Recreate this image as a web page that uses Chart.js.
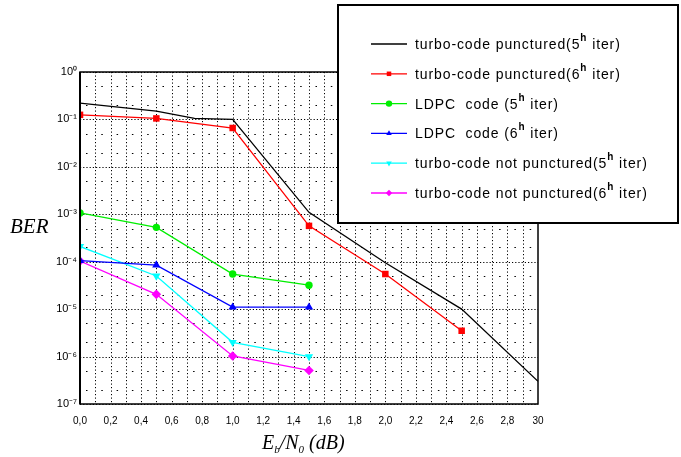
<!DOCTYPE html>
<html>
<head>
<meta charset="utf-8">
<script src="https://cdn.jsdelivr.net/npm/chart.js@4/dist/chart.umd.min.js"></script>
<style>
html,body{margin:0;padding:0;background:#fff;overflow:hidden;}
canvas{display:block;}
</style>
</head>
<body>
<canvas id="c" width="681" height="457"></canvas>
<script>
// ---- data ----
const xTickValues = [0,0.2,0.4,0.6,0.8,1.0,1.2,1.4,1.6,1.8,2.0,2.2,2.4,2.6,2.8,3.0];
const xTickLabels = ['0,0','0,2','0,4','0,6','0,8','1,0','1,2','1,4','1,6','1,8','2,0','2,2','2,4','2,6','2,8','30'];
const yTickValues = [1e-7,1e-6,1e-5,1e-4,1e-3,1e-2,1e-1,1];
const yTickLabels = ['10\u207B\u2077','10\u207B\u2076','10\u207B\u2075','10\u207B\u2074','10\u207B\u00B3','10\u207B\u00B2','10\u207B\u00B9','10\u2070'];

const seriesLabels = [
  'turbo-code punctured(5\u02B0 iter)',
  'turbo-code punctured(6\u02B0 iter)',
  'LDPC  code (5\u02B0 iter)',
  'LDPC  code (6\u02B0 iter)',
  'turbo-code not punctured(5\u02B0 iter)',
  'turbo-code not punctured(6\u02B0 iter)'
];

const turboPunct5X = [0, 0.5, 0.75, 1.0, 1.5, 2.0, 2.5, 3.0];
const turboPunct5Y = [0.22, 0.15, 0.105, 0.1, 1.1e-3, 9.5e-5, 1.0e-5, 3e-7];

const ebn0 = [0, 0.5, 1.0, 1.5, 2.0, 2.5];
const turboPunct6Y = [0.125, 0.105, 0.066, 5.7e-4, 5.5e-5, 3.5e-6];
const ldpc5Y = [1.07e-3, 5.3e-4, 5.5e-5, 3.2e-5];
const ldpc6Y = [1.05e-4, 8.5e-5, 1.1e-5, 1.1e-5];
const turboNoPunct5Y = [2.1e-4, 5.0e-5, 2.0e-6, 1.0e-6];
const turboNoPunct6Y = [1.03e-4, 2.05e-5, 1.03e-6, 5.1e-7];

// ---- build datasets ----
function pts(xs, ys){ return ys.map((y,i)=>({x:xs[i], y:y})); }

const datasets = [
  {label: seriesLabels[0], data: pts(turboPunct5X, turboPunct5Y), borderColor:'#000000', backgroundColor:'#000000', pointRadius:0, pointStyle:false},
  {label: seriesLabels[1], data: pts(ebn0, turboPunct6Y), borderColor:'#ff0000', backgroundColor:'#ff0000', pointStyle:'rect', pointRadius:4.6},
  {label: seriesLabels[2], data: pts(ebn0, ldpc5Y), borderColor:'#00ee00', backgroundColor:'#00ee00', pointStyle:'circle', pointRadius:3.7},
  {label: seriesLabels[3], data: pts(ebn0, ldpc6Y), borderColor:'#0000ff', backgroundColor:'#0000ff', pointStyle:'triangle', pointRadius:4.8},
  {label: seriesLabels[4], data: pts(ebn0, turboNoPunct5Y), borderColor:'#00ffff', backgroundColor:'#00ffff', pointStyle:'triangle', pointRotation:180, pointRadius:4.8},
  {label: seriesLabels[5], data: pts(ebn0, turboNoPunct6Y), borderColor:'#ff00ff', backgroundColor:'#ff00ff', pointStyle:'rectRot', pointRadius:4.8}
];
datasets.forEach(d=>{ d.borderWidth = 1.3; d.pointBorderWidth = 0; d.tension = 0; d.fill = false; });

// ---- custom grid / frame / titles / legend ----
const decorPlugin = {
  id: 'decor',
  beforeDatasetsDraw(chart){
    const {ctx, chartArea:a, scales:{x, y}} = chart;
    ctx.save();
    ctx.strokeStyle = '#000';
    ctx.lineWidth = 1;
    // vertical dotted lines every 0.1
    ctx.setLineDash([1.2,2.3]);
    for (let i=1;i<30;i++){
      const px = Math.round(x.getPixelForValue(i/10))+0.5;
      ctx.beginPath(); ctx.moveTo(px, a.top); ctx.lineTo(px, a.bottom); ctx.stroke();
    }
    // decade horizontal dotted lines
    ctx.setLineDash([1.2,2.0]);
    yTickValues.forEach(v=>{
      const py = Math.round(y.getPixelForValue(v))+0.5;
      ctx.beginPath(); ctx.moveTo(a.left, py); ctx.lineTo(a.right, py); ctx.stroke();
    });
    // sparse minor rows (2x and 5x)
    ctx.setLineDash([1.5,13.8]);
    for (let e=-7;e<0;e++){
      [2,5].forEach(m=>{
        const py = Math.round(y.getPixelForValue(m*Math.pow(10,e)))+0.5;
        ctx.beginPath(); ctx.moveTo(a.left+6, py); ctx.lineTo(a.right, py); ctx.stroke();
      });
    }
    ctx.restore();
  },
  afterDraw(chart){
    const {ctx, chartArea:a} = chart;
    ctx.save();
    // frame
    ctx.strokeStyle = '#000';
    ctx.lineWidth = 1.5;
    ctx.setLineDash([]);
    ctx.strokeRect(a.left, a.top, a.right-a.left, a.bottom-a.top);
    ctx.lineWidth = 2;
    ctx.beginPath(); ctx.moveTo(a.left, a.top); ctx.lineTo(a.left, a.bottom); ctx.stroke();

    // axis titles
    ctx.fillStyle = '#000';
    ctx.textBaseline = 'middle';
    ctx.textAlign = 'left';
    ctx.font = 'italic 21px "Liberation Serif"';
    ctx.fillText('BER', 10, 227);

    // x title: Eb/N0 (dB)
    let tx = 262, ty = 444;
    const big = 'italic 20px "Liberation Serif"', small = 'italic 11px "Liberation Serif"';
    const parts = [['E',big,0],['b',small,6],['/N',big,0],['0',small,6],[' (dB)',big,0]];
    parts.forEach(p=>{ ctx.font = p[1]; ctx.fillText(p[0], tx, ty+p[2]); tx += ctx.measureText(p[0]).width; });

    // legend box
    const bx = 338, by = 5, bw = 340, bh = 218;
    ctx.fillStyle = '#fff';
    ctx.fillRect(bx, by, bw, bh);
    ctx.strokeStyle = '#000';
    ctx.lineWidth = 2;
    ctx.strokeRect(bx, by, bw, bh);
    chart.data.datasets.forEach((d,i)=>{
      const ry = 44 + i*29.8;
      ctx.strokeStyle = d.borderColor;
      ctx.fillStyle = d.backgroundColor;
      ctx.lineWidth = 1.3;
      ctx.setLineDash([]);
      ctx.beginPath(); ctx.moveTo(371, ry); ctx.lineTo(407, ry); ctx.stroke();
      if (d.pointStyle){
        Chart.helpers.drawPoint(ctx, {pointStyle:d.pointStyle, rotation:d.pointRotation||0, radius:3.2, borderWidth:0}, 389, ry);
      }
      // text with superscript
      ctx.fillStyle = '#000';
      ctx.textBaseline = 'alphabetic';
      const segs = d.label.split('\u02B0');
      let x0 = 415;
      ctx.font = '14px "Liberation Sans"';
      ctx.letterSpacing = '0.9px';
      ctx.fillText(segs[0], x0, ry+5);
      x0 += ctx.measureText(segs[0]).width;
      ctx.font = 'bold 10px "Liberation Sans"';
      ctx.fillText('h', x0, ry-3);
      x0 += ctx.measureText('h').width;
      ctx.font = '14px "Liberation Sans"';
      ctx.fillText(segs[1], x0, ry+5);
      ctx.letterSpacing = '0px';
    });
    ctx.restore();
  }
};

new Chart(document.getElementById('c'), {
  type: 'line',
  data: { datasets },
  options: {
    responsive: false,
    animation: false,
    devicePixelRatio: 1,
    layout: { padding: { left: 0, top: 72, right: 143, bottom: 0 } },
    plugins: { legend: { display: false }, tooltip: { enabled: false } },
    scales: {
      x: {
        type: 'linear', min: 0, max: 3,
        afterBuildTicks(s){ s.ticks = xTickValues.map(v=>({value:v})); },
        afterFit(s){ s.height = 53; },
        grid: { display: false, drawTicks: false },
        border: { display: false },
        ticks: {
          padding: 11, color: '#000', maxRotation: 0, autoSkip: false,
          font: { family: '"Liberation Sans"', size: 10 },
          callback(v, i){ return xTickLabels[i]; }
        }
      },
      y: {
        type: 'logarithmic', min: 1e-7, max: 1,
        afterBuildTicks(s){ s.ticks = yTickValues.map(v=>({value:v})); },
        afterFit(s){ s.width = 80; },
        grid: { display: false, drawTicks: false },
        border: { display: false },
        ticks: {
          padding: 3, color: '#000', autoSkip: false,
          font: { family: '"Liberation Sans"', size: 11 },
          callback(v, i){ return yTickLabels[i]; }
        }
      }
    }
  },
  plugins: [decorPlugin]
});
</script>
</body>
</html>
